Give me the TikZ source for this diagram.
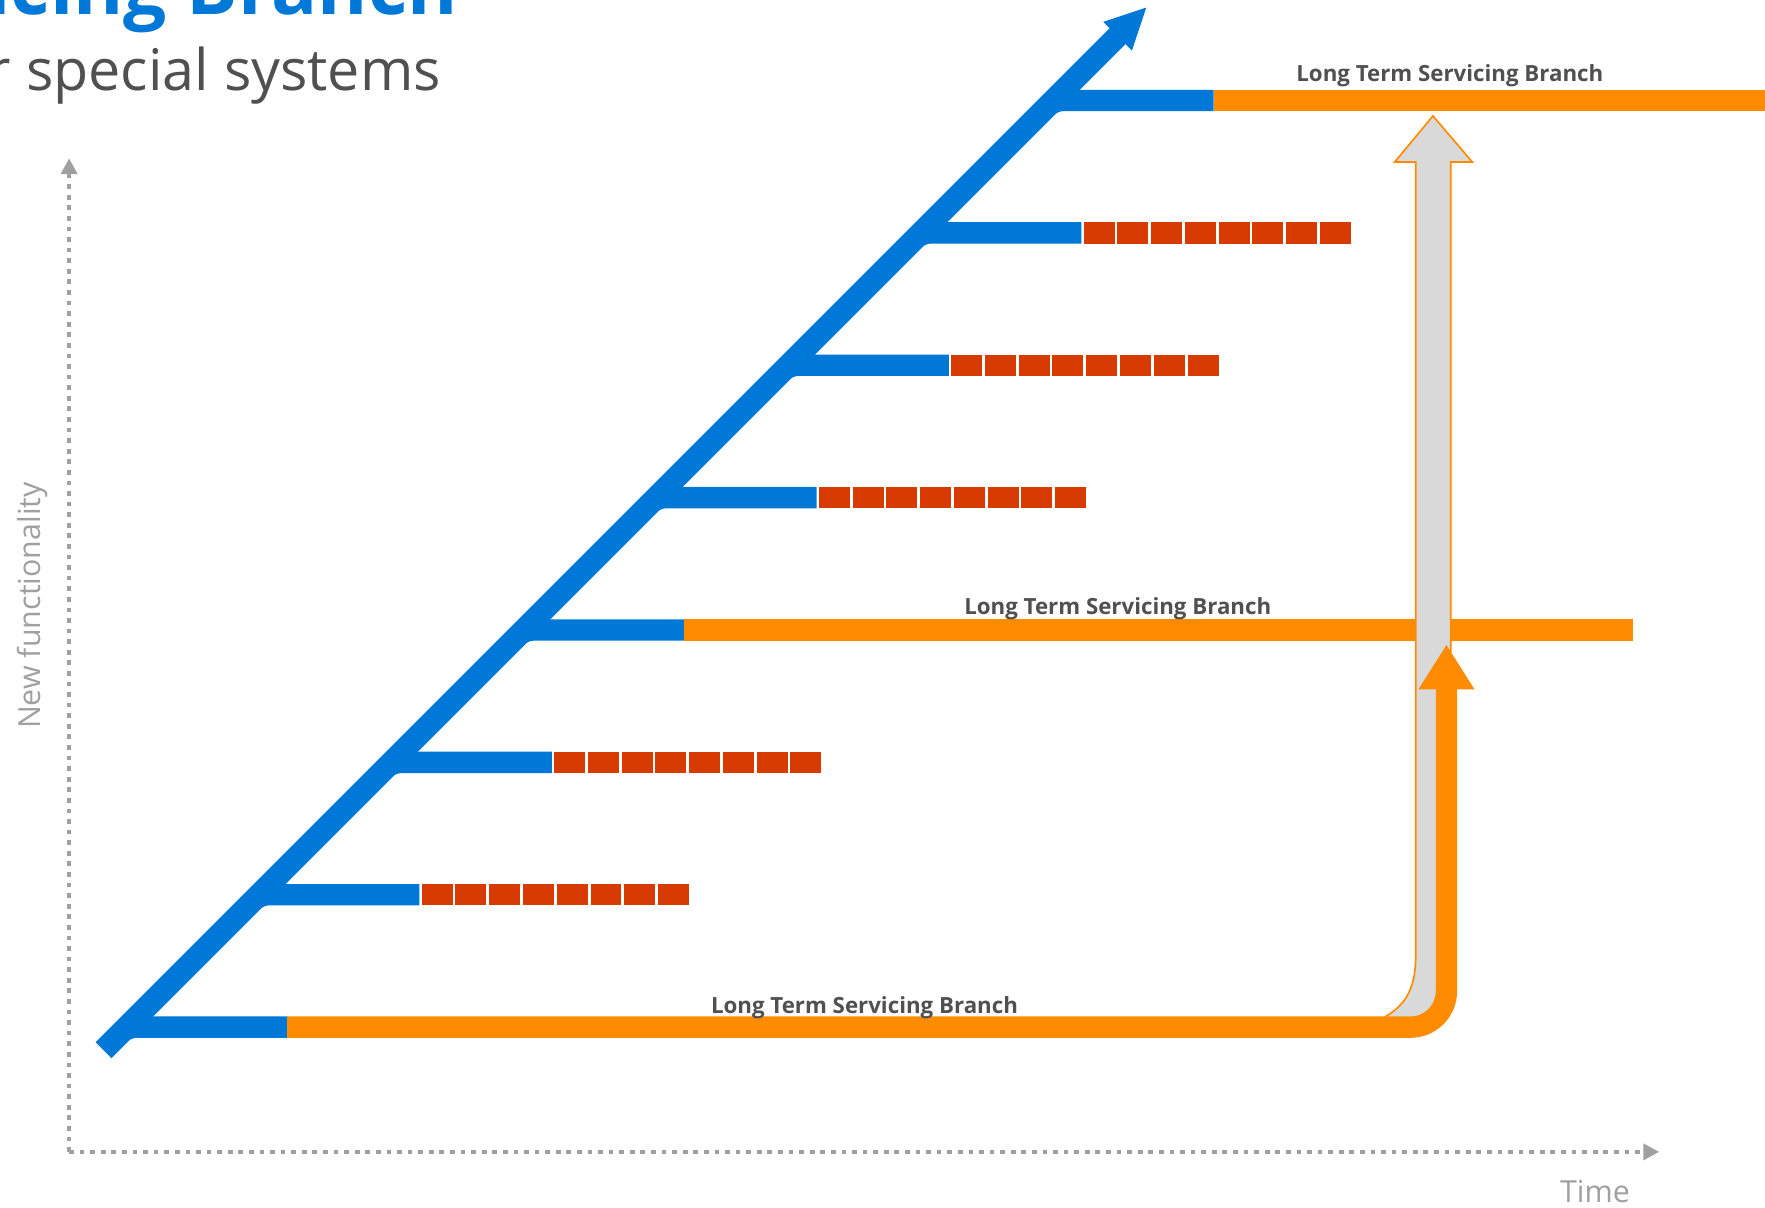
\documentclass[tikz,border=0pt]{standalone}
\usepackage{fontspec}
\setmainfont{Open Sans}
\usepackage{tikz}
\usetikzlibrary{arrows.meta,calc}
\definecolor{winblue}{HTML}{0078D7}
\definecolor{ltsborange}{HTML}{FF8C00}
\definecolor{patchred}{HTML}{D83B01}
\definecolor{axisgray}{HTML}{A0A0A0}
\definecolor{labelgray}{HTML}{505050}
\definecolor{arrowgray}{HTML}{D9D9D9}
\tikzset{%
  main line/.style={
    draw=winblue,
    line width=20pt
  },
  branch line/.style={
    draw=winblue,
    line width=19pt,
    rounded corners=8pt
  },
  ltsb line/.style={
    draw=ltsborange,
    line width=19pt
  },
  patch line/.style={
    draw=patchred,
    line width=19pt,
    dash pattern=on 27.5pt off 2.5pt
  },
  axis line/.style={
    draw=axisgray,
    line width=4.2pt,
    dash pattern=on 4.2pt off 5.2pt,
    -{Triangle[length=14pt,width=14pt]}
  },
  upgrade arrow/.style={
    draw=ltsborange,
    fill=arrowgray,
    line width=1.5pt
  },
  title text/.style={
    inner sep=0pt,
    text=winblue,
    font=\bfseries\fontsize{68}{80}\selectfont
  },
  subtitle text/.style={
    inner sep=0pt,
    text=labelgray,
    font=\fontsize{51}{60}\selectfont
  },
  axis text/.style={
    inner sep=0pt,
    text=axisgray,
    font=\fontsize{27}{32}\selectfont
  },
  ltsb text/.style={
    inner sep=0pt,
    text=labelgray,
    font=\bfseries\fontsize{19.8}{24}\selectfont
  },
}

\begin{document}
\begin{tikzpicture}[x=1pt, y=-1pt]

\useasboundingbox (0,0) rectangle (1568,1072.3);
\clip (0,0) rectangle (1568,1072.3);

\node [title text, anchor=base east] (title) at (407,13.3) {Long Term Servicing Branch};
\node [subtitle text, anchor=base east] (subtitle) at (392,80) {for special systems};

\coordinate (origin) at (61.4,1023.3);
\coordinate (fn-end) at (61.4,140.6);
\coordinate (time-end) at (1474,1023.3);
\draw [axis line] (origin) -- (fn-end);
\draw [axis line] (origin) -- (time-end);
\node [axis text, rotate=90, anchor=base] (fn-label) at (36,538) {New functionality};
\node [axis text, anchor=base] (time-label) at (1417,1068) {Time};

\foreach \k in {0,...,7}
  \coordinate (fork-\k) at (112.5+117.6*\k, 912.5-117.6*\k);
\foreach \k in {0,...,7}
  \coordinate (split-\k) at ($(fork-\k)+(142.5,0)$);

\coordinate (main-start) at ($(fork-0)+(-20.5,20.5)$);
\coordinate (main-tip) at (1019,6);
\draw [main line, -{Triangle[length=37pt,width=33pt]}] (main-start) -- (main-tip);

\foreach \k in {0,...,7}
  \draw [branch line] ($(fork-\k)+(-20,20)$) -- (fork-\k) -- (split-\k);

\foreach \k in {1,2,4,5,6}
  \draw [patch line] ($(split-\k)+(2,0)$) -- ($(split-\k)+(239.5,0)$);

\coordinate (edge) at (1568,0);
\coordinate (mid-end) at (1450.4,0);
\coordinate (turn) at (1285,572.5);
\draw [ltsb line] (split-7) -- (split-7 -| edge);
\draw [ltsb line] (split-3) -- (split-3 -| mid-end);

\draw [upgrade arrow] (1273,103) -- (1308,144) -- (1288.8,144) -- (1288.8,870)
  -- (1275.6,903) -- (1240,910) -- (1231,910) -- (1231,903)
  .. controls (1250,892) and (1257.7,876) .. (1257.7,849)
  -- (1257.7,144) -- (1239,144) -- cycle;

\draw [ltsb line, rounded corners=32pt, -{Triangle[length=40pt,width=47pt]}]
  (split-0) -- (split-0 -| turn) -- (turn);

\node [ltsb text, anchor=base] (ltsb-top) at (1288,72.5) {Long Term Servicing Branch};
\node [ltsb text, anchor=base] (ltsb-mid) at (993,545.5) {Long Term Servicing Branch};
\node [ltsb text, anchor=base] (ltsb-bot) at (768,900.4) {Long Term Servicing Branch};

\end{tikzpicture}
\end{document}
